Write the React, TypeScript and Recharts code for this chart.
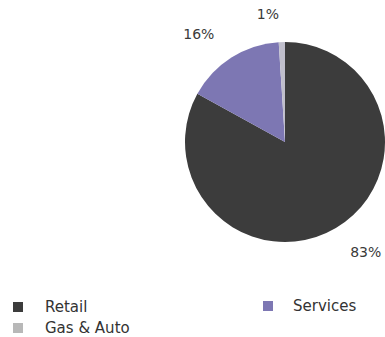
import { PieChart, Pie, Cell, Legend } from 'recharts'

const categories = ['Retail', 'Services', 'Gas & Auto']
const shares = [83, 16, 1]
const colors = ['#3c3c3c', '#7d77b3', '#c0bfcc']

// legend order: two columns like the source
const legendOrder = ['Retail', 'Services', 'Gas & Auto']

const data = categories.map((name, i) => ({ name, value: shares[i] }))

const RADIAN = Math.PI / 180

const renderLabel = (props: any) => {
  const { cx, cy, midAngle, outerRadius, value } = props
  const r = outerRadius + 28
  const x = cx + r * Math.cos(-midAngle * RADIAN)
  const y = cy + r * Math.sin(-midAngle * RADIAN)
  return (
    <text
      x={x > cx ? x : x - 2}
      y={y}
      fill="#3a3a3a"
      fontSize={14}
      fontFamily="'DejaVu Sans', sans-serif"
      textAnchor={x > cx ? 'start' : 'end'}
      dominantBaseline="central"
    >
      {`${value}%`}
    </text>
  )
}

const slots: Record<string, { left: number; top: number }> = {
  'Retail': { left: 13, top: 9 },
  'Services': { left: 263, top: 8 },
  'Gas & Auto': { left: 13, top: 30 },
}

const renderLegend = () => (
  <div style={{ position: 'relative', width: 385, height: 47 }}>
    {legendOrder.map((name) => {
      const i = categories.indexOf(name)
      const s = slots[name]
      return (
        <div
          key={name}
          style={{
            position: 'absolute',
            left: s.left,
            top: s.top,
            display: 'flex',
            alignItems: 'center',
            fontFamily: "'DejaVu Sans', sans-serif",
            fontSize: 15,
            color: '#333',
            lineHeight: '16px',
          }}
        >
          <span
            style={{
              display: 'inline-block',
              width: 10,
              height: 10,
              background: i === 2 ? '#b8b8b8' : colors[i],
              marginRight: name === 'Services' ? 20 : 22,
            }}
          />
          {name}
        </div>
      )
    })}
  </div>
)

export default function App() {
  return (
    <div style={{ position: 'absolute', left: 0, top: 0, width: 385, height: 337, background: '#fff' }}>
      <PieChart width={385} height={337} margin={{ top: 0, right: 0, bottom: 0, left: 0 }}>
        <Pie
          data={data}
          dataKey="value"
          nameKey="name"
          cx={285}
          cy={142}
          outerRadius={100}
          startAngle={90}
          endAngle={-270}
          stroke="none"
          label={renderLabel}
          labelLine={false}
          isAnimationActive={false}
        >
          {data.map((d, i) => (
            <Cell key={`cell-${i}`} fill={colors[i]} />
          ))}
        </Pie>
        <Legend
          content={renderLegend}
          wrapperStyle={{ position: 'absolute', left: 0, top: 290, width: 385, height: 47 }}
        />
      </PieChart>
    </div>
  )
}
